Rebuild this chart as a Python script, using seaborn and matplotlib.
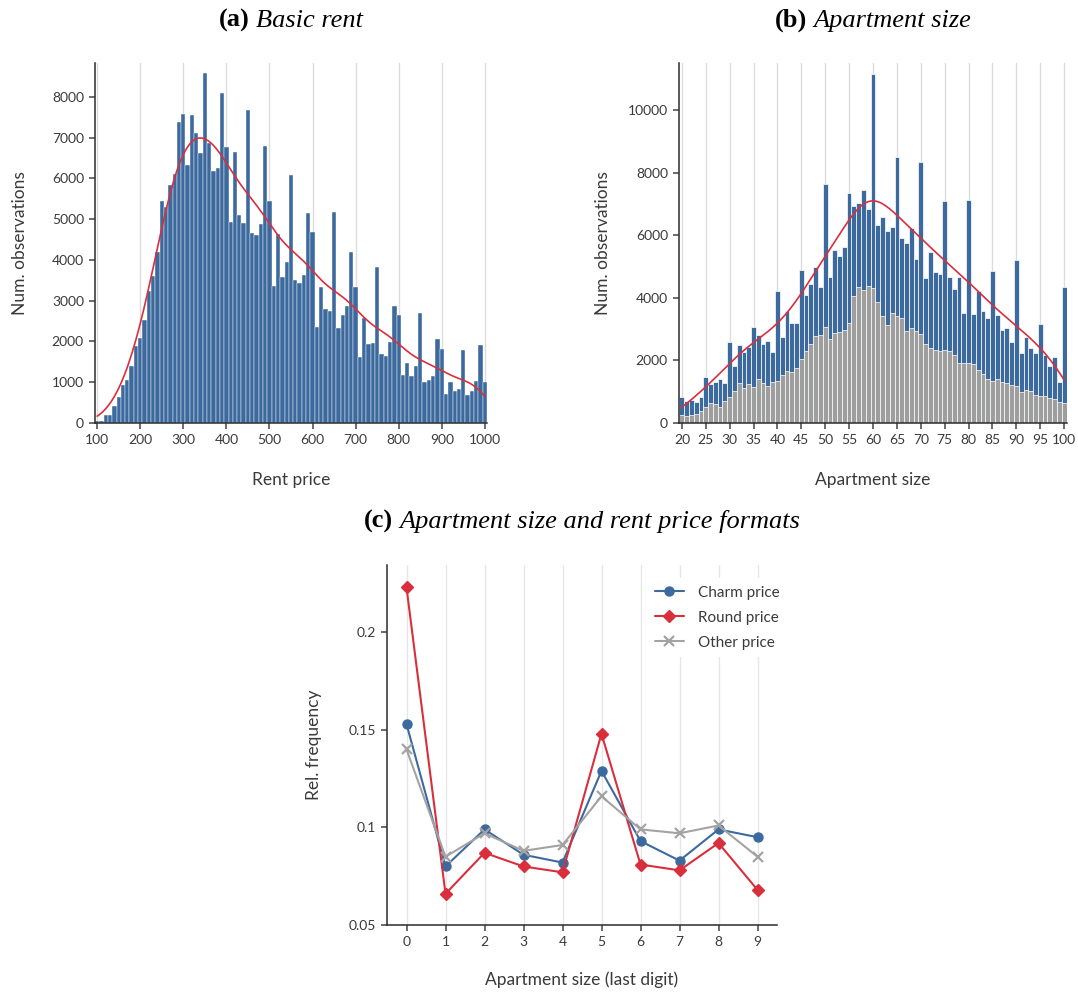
import numpy as np
import pandas as pd
import matplotlib
matplotlib.use("Agg")
import matplotlib.pyplot as plt
import seaborn as sns

# ---------------------------------------------------------------- data
rent_values = list(range(100, 1001, 10))
rent_counts = [
    60, 60, 200, 200, 423, 643, 936, 1058, 1400, 1888,
    2083, 2522, 3230, 3596, 4182, 5452, 5289, 5842, 6111, 7380,
    7575, 6330, 7551, 7111, 6623, 8576, 6867, 6184, 6257, 8088,
    6770, 4939, 6648, 5110, 4915, 7673, 4671, 4622, 4890, 6794,
    5452, 3352, 4646, 3572, 3938, 6086, 3499, 3426, 3620, 5159,
    4695, 2351, 3328, 2791, 2742, 5183, 2327, 2644, 2864, 4182,
    3328, 1619, 2571, 1937, 1961, 3816, 1692, 1644, 1985, 2864,
    2644, 1180, 1473, 1155, 1400, 2693, 1009, 1058, 1155, 2059,
    1814, 716, 1009, 789, 838, 1790, 692, 789, 1033, 1912,
    1009,
]

size_values = list(range(20, 101))
size_counts_all = [
    840, 713, 745, 681, 840, 1479, 1255, 1319, 1415, 1287,
    2596, 1830, 2500, 2277, 2436, 3074, 2819, 2532, 2628, 2277,
    4223, 2755, 3585, 3202, 3202, 4894, 4096, 4447, 4989, 4351,
    7638, 4670, 5532, 5340, 5628, 7351, 6936, 7032, 7447, 6840,
    11149, 6340, 6585, 6138, 6266, 8500, 5915, 5755, 6234, 5245,
    8340, 4638, 5468, 4830, 4766, 7096, 4670, 4287, 4670, 3521,
    7128, 3489, 4223, 3585, 3362, 4862, 3457, 2979, 3043, 2596,
    5213, 2245, 2755, 2404, 2245, 3170, 2181, 1830, 2117, 1319,
    4351,
]
size_counts_sub = [
    266, 234, 266, 298, 394, 521, 649, 617, 521, 713,
    840, 1032, 1287, 1128, 1255, 1160, 1415, 1287, 1191, 1319,
    1351, 1543, 1670, 1638, 1766, 2053, 2309, 2532, 2787, 2819,
    3074, 2691, 2883, 2915, 2979, 3202, 4064, 4351, 4255, 4383,
    4319, 3872, 3426, 3138, 3521, 3426, 3362, 2947, 3043, 2947,
    2851, 2532, 2404, 2340, 2309, 2340, 2309, 2181, 1926, 1926,
    1926, 1894, 1702, 1574, 1415, 1351, 1415, 1319, 1287, 1223,
    1191, 1000, 1064, 1032, 904, 872, 872, 809, 777, 681,
    649,
]

last_digits = list(range(10))
charm_freq = [0.153, 0.080, 0.099, 0.086, 0.082, 0.129, 0.093, 0.083, 0.099, 0.095]
round_freq = [0.223, 0.066, 0.087, 0.080, 0.077, 0.148, 0.081, 0.078, 0.092, 0.068]
other_freq = [0.140, 0.085, 0.097, 0.088, 0.091, 0.116, 0.099, 0.097, 0.101, 0.085]

# ---------------------------------------------------------------- style
BLUE = "#3d6a9e"
RED = "#d92f3c"
GRAY = "#9e9e9e"
LINE_GRAY = "#a3a3a3"
TEXT = "#3a3a3a"
GRID = "#dcdcdc"

sns.set_style("ticks")
plt.rcParams["font.family"] = ["Lato", "DejaVu Sans"]
plt.rcParams.update({
    "axes.edgecolor": "#2b2b2b",
    "axes.linewidth": 1.1,
    "xtick.color": "#444444",
    "ytick.color": "#444444",
    "xtick.labelcolor": TEXT,
    "ytick.labelcolor": TEXT,
    "axes.labelcolor": TEXT,
    "xtick.major.size": 4.5,
    "ytick.major.size": 4.5,
    "xtick.major.width": 1.1,
    "ytick.major.width": 1.1,
    "xtick.labelsize": 10,
    "ytick.labelsize": 10,
    "axes.labelsize": 12.5,
})

W, H = 1078, 992
fig = plt.figure(figsize=(W / 100, H / 100), dpi=100)


def add_axes_px(left, top, right, bottom):
    return fig.add_axes([left / W, 1 - bottom / H, (right - left) / W, (bottom - top) / H])


def panel_title(xc, y, tag, text, size=19):
    r = fig.canvas.get_renderer()
    t1 = fig.text(0, 1 - y / H, tag, fontfamily="Liberation Serif",
                  fontweight="bold", fontsize=size, color="black", va="baseline")
    t2 = fig.text(0, 1 - y / H, text, fontfamily="Liberation Serif",
                  fontstyle="italic", fontsize=size, color="black", va="baseline")
    w1 = t1.get_window_extent(r).width
    w2 = t2.get_window_extent(r).width
    gap = size * 0.3
    x0 = xc - (w1 + gap + w2) / 2
    t1.set_x(x0 / W)
    t2.set_x((x0 + w1 + gap) / W)


def style_axes(ax, grid_color=GRID):
    sns.despine(ax=ax)
    ax.grid(axis="x", color=grid_color, linewidth=1.0)
    ax.grid(axis="y", visible=False)
    ax.set_axisbelow(True)


# ---------------------------------------------------------------- (a) basic rent
ax_a = add_axes_px(95, 63, 487, 423)
sns.histplot(x=rent_values, weights=rent_counts, binwidth=10, binrange=(95, 1005),
             color=BLUE, alpha=1, edgecolor="white", linewidth=0.3,
             kde=True, kde_kws={"bw_adjust": 0.4}, ax=ax_a)
kde_a = ax_a.lines[-1]
kde_a.set_color(RED)
kde_a.set_linewidth(1.2)
kde_a.set_zorder(5)
ax_a.set_xlim(95, 1005)
ax_a.set_ylim(0, 8830)
ax_a.set_xticks(range(100, 1001, 100))
ax_a.set_yticks(range(0, 8001, 1000))
ax_a.set_xlabel("Rent price", labelpad=19)
ax_a.set_ylabel("Num. observations", labelpad=17)
style_axes(ax_a)

# ---------------------------------------------------------------- (b) apartment size
ax_b = add_axes_px(679, 63, 1067, 423)
sns.histplot(x=size_values, weights=size_counts_all, discrete=True,
             color=BLUE, alpha=1, edgecolor="white", linewidth=0.5,
             kde=True, kde_kws={"bw_adjust": 0.5}, ax=ax_b)
kde_b = ax_b.lines[-1]
kde_b.set_color(RED)
kde_b.set_linewidth(1.2)
kde_b.set_zorder(5)
sns.histplot(x=size_values, weights=size_counts_sub, discrete=True,
             color=GRAY, alpha=1, edgecolor="white", linewidth=0.5, ax=ax_b)
ax_b.set_xlim(19.4, 100.6)
ax_b.set_ylim(0, 11500)
ax_b.set_xticks(range(20, 101, 5))
ax_b.set_yticks(range(0, 10001, 2000))
ax_b.set_xlabel("Apartment size", labelpad=19)
ax_b.set_ylabel("Num. observations", labelpad=12)
style_axes(ax_b)

# ---------------------------------------------------------------- (c) last digit
ax_c = add_axes_px(387, 565, 777, 925)
series = [
    ("Charm price", charm_freq, BLUE, "o", 6.5, 1.0),
    ("Round price", round_freq, RED, "D", 6.0, 1.0),
    ("Other price", other_freq, LINE_GRAY, "x", 7.0, 1.6),
]
for label, vals, col, mk, ms, mew in series:
    sns.lineplot(x=last_digits, y=vals, color=col, marker=mk, markersize=ms,
                 markeredgecolor=col, markeredgewidth=mew, linewidth=1.5,
                 label=label, ax=ax_c)
ax_c.set_xlim(-0.5, 9.5)
ax_c.set_ylim(0.05, 0.2345)
ax_c.set_xticks(last_digits)
ax_c.set_yticks([0.05, 0.1, 0.15, 0.2])
ax_c.set_yticklabels(["0.05", "0.1", "0.15", "0.2"])
ax_c.set_xlabel("Apartment size (last digit)", labelpad=17)
ax_c.set_ylabel("Rel. frequency", labelpad=19)
style_axes(ax_c, grid_color="#e6e6e6")
leg = ax_c.legend(loc="upper right", bbox_to_anchor=(1.045, 0.985), frameon=True,
                  fontsize=11, handlelength=1.9, handletextpad=0.9,
                  borderpad=0.5, labelspacing=0.72)
leg.get_frame().set_edgecolor("none")
leg.get_frame().set_facecolor("white")
leg.get_frame().set_alpha(1)
for t in leg.get_texts():
    t.set_color(TEXT)

# ---------------------------------------------------------------- titles
panel_title(291, 27, "(a)", "Basic rent")
panel_title(873, 27, "(b)", "Apartment size")
panel_title(582, 528, "(c)", "Apartment size and rent price formats")

fig.savefig("out.png", dpi=100)
